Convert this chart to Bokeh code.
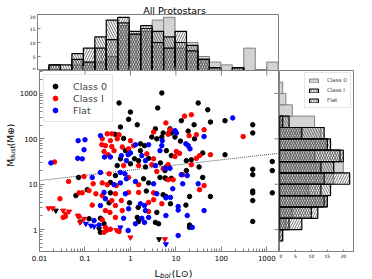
import numpy as np
from bokeh.plotting import figure
from bokeh.layouts import column, row
from bokeh.models import (FixedTicker, Legend, LegendItem, ColumnDataSource, Range1d)
from bokeh.core.properties import value
from bokeh.embed import file_html
from bokeh.resources import INLINE

# ---------------- data ----------------
# scatter points: log10(Lbol / Lsun), log10(Mdust / Mearth)
class0_logL = [-0.25, 0.0, 0.60, -0.04, 0.15, -0.22, 0.55, 0.47, 0.58, -0.34, -0.15, 0.22, 0.31, -0.11, 0.22,
               -0.22, 0.09, 0.18, 0.40, -0.29, 0.0, 0.33, -0.33, -1.14, -0.44, 0.29, 0.40, -0.95, -1.20, -0.44,
               0.35, -0.47, -0.02, 0.17, 0.58, -0.91, -0.66, 0.15, -0.58, 0.18, 0.55, 0.62, -0.66,
               0.69, 1.49, 1.70, 1.12, 1.76, 2.08, 2.69, 2.69, 1.40, 1.27, 0.72, 0.85, 0.90, 0.87, 0.69, 0.98,
               1.10, 1.41, 0.79, 0.90, 1.23, 1.34, 1.59, 2.08, 3.12, 3.12, 2.69, 2.69, 0.66, 0.79, 0.76, 1.23,
               1.51, 1.59, 0.65, 0.76, 0.79, 0.90, 0.72, 0.78, 1.30, 1.76, 2.69, 2.69, 3.12, 2.69, 0.88, 1.22,
               2.69, 1.30, 1.30]
class0_logM = [2.79, 2.59, 2.68, 2.43, 2.31, 2.26, 2.22, 2.04, 2.00, 2.10, 2.01, 1.89, 1.85, 1.74, 1.74,
               1.56, 1.56, 1.52, 1.57, 1.41, 1.45, 1.38, 1.19, 1.15, 1.04, 1.12, 1.03, 0.88, 0.75, 0.81,
               0.85, 0.59, 0.59, 0.49, 0.38, 0.24, 0.25, 0.27, 0.13, 0.18, 0.16, 0.13, -0.06,
               3.01, 2.79, 2.64, 2.40, 2.37, 2.40, 2.31, 2.13, 2.31, 2.17, 2.13, 2.13, 2.13, 2.22, 2.04, 2.04,
               1.95, 2.00, 1.74, 1.63, 1.52, 1.54, 1.69, 1.65, 1.50, 1.30, 1.33, 1.21, 1.47, 1.38, 1.30, 1.30,
               1.38, 1.15, 1.15, 1.14, 1.12, 1.13, 0.77, 0.73, 0.73, 0.73, 0.85, 0.81, 0.81, 0.64, 0.57, 0.54,
               0.18, 0.10, 0.05]
class0_lim_logL = [-1.64, -1.09, -0.69, 0.63]
class0_lim_logM = [0.42, 0.18, 0.01, -0.21]

classI_logL = [0.51, -0.51, -0.41, -0.25, -0.62, -0.29, -0.44, 0.0, 0.07, -0.63, -0.55, -0.41, -0.18, -0.04,
               0.36, -0.58, -0.36, -0.49, 0.51, -1.67, -0.15, 0.18, 0.47, 0.58, -0.47, -0.04, -1.02, -1.36,
               -0.82, -0.62, 0.18, -0.31, -0.51, -0.91, -1.13, -1.06, -0.76, -0.62, -0.33, -0.04, 0.18, 0.51,
               -1.55, -0.41, -0.20, 0.40, 0.51, -0.84, -0.33, -0.55, -0.45, -0.18, 0.40, -1.43, -1.48, -1.13,
               -0.62, -0.33, -0.55, -0.51, -0.44, -0.58, -0.25,
               1.19, 1.34, 0.78, 0.87, 0.83, 1.29, 1.45, 1.62, 2.48, 1.01, 1.08, 0.98, 1.52, 1.76, 1.45, 0.83,
               1.34, 1.15, 0.72, 0.83, 0.94, 1.62, 1.52, 0.69]
classI_logM = [2.15, 2.11, 2.11, 2.09, 2.00, 2.00, 1.96, 1.96, 1.85, 1.87, 1.85, 1.83, 1.82, 1.78,
               1.67, 1.72, 1.74, 1.65, 1.56, 1.49, 1.41, 1.41, 1.43, 1.28, 1.23, 1.15, 1.17, 1.06,
               1.01, 1.03, 0.99, 0.97, 0.99, 0.86, 0.81, 0.81, 0.79, 0.75, 0.79, 0.82, 0.82, 0.81,
               0.68, 0.64, 0.64, 0.60, 0.66, 0.54, 0.53, 0.42, 0.38, 0.42, 0.40, 0.29, 0.27, 0.29,
               0.22, 0.27, 0.05, -0.01, 0.01, -0.06, -0.04,
               2.50, 2.53, 2.35, 2.20, 2.10, 2.07, 2.09, 2.20, 2.05, 1.72, 1.68, 1.61, 1.63, 1.65, 1.57, 1.43,
               1.43, 1.21, 1.34, 1.10, 1.10, 0.97, 0.88, 0.57]
classI_lim_logL = [-1.80, -1.71, -1.48, -1.35, -1.42, -1.16, -1.02, -1.11, -0.31, 0.0, 0.76]
classI_lim_logM = [0.47, 0.47, 0.42, 0.40, 0.35, 0.31, 0.24, 0.16, -0.01, -0.17, -0.21]

flat_logL = [-0.66, -1.00, -1.15, 0.11, 0.40, -0.05, 0.0, 0.25, -1.02, -0.44, -0.57, -0.20, -0.09, 0.33,
             -1.16, -1.06, -1.75, 0.55, -0.66, -0.22, -0.12, -0.09, -0.84, -0.22, 0.11, 0.51, -0.36, -0.58,
             -0.11, 0.58, -0.55, 0.22, 0.31, -0.66, -0.04, 0.33, -0.80, -0.15, 0.25, 0.40, -0.69, -0.05,
             0.11, 0.31,
             2.25, 1.62, 0.98, 1.01, 0.70, 0.69, 0.65, 1.22, 1.27, 1.31, 0.76, 0.87, 1.25, 1.12, 1.15, 1.49,
             0.93, 0.78, 0.88, 1.05, 1.05, 1.62, 1.25, 0.78, 1.36, 1.05]
flat_logM = [2.07, 1.98, 1.96, 1.87, 1.87, 1.65, 1.69, 1.63, 1.76, 1.60, 1.60, 1.63, 1.52, 1.52,
             1.57, 1.56, 1.47, 1.41, 1.26, 1.26, 1.23, 1.12, 1.15, 1.03, 1.06, 1.01, 0.99, 0.82,
             0.79, 0.79, 0.68, 0.57, 0.53, 0.53, 0.46, 0.42, 0.20, 0.25, 0.25, 0.27, 0.10, -0.02,
             0.13, 0.16,
             2.46, 2.05, 2.18, 2.13, 1.96, 1.85, 1.74, 1.89, 1.85, 1.78, 1.35, 1.35, 1.19, 1.21, 1.01, 1.01,
             0.90, 0.70, 0.71, 0.51, 0.43, 0.42, 0.31, 0.31, 0.05, -0.13]
flat_lim_logL = [-0.98, -0.87, -0.80, -0.22, 0.78]
flat_lim_logM = [0.13, 0.09, 0.07, 0.05, -0.32]

# dotted fit line: log Mdust = fit_intercept + fit_slope * log Lbol
fit_slope = 0.114
fit_intercept = 1.31

# top histogram: bins in log Lbol
lbol_edges = [-1.75, -1.5, -1.25, -1.0, -0.75, -0.5, -0.25, 0.0, 0.25, 0.5, 0.75, 1.0, 1.25, 1.5,
              1.75, 2.0, 2.25, 2.5, 2.75, 3.0, 3.25]
lbol_class0 = [0, 0, 2, 3, 3, 5, 16, 13, 14, 18, 19, 8, 10, 5, 3, 2, 1, 8, 0, 3]
lbol_classI = [2, 2, 6, 3, 12, 18, 17, 14, 15, 14, 12, 10, 9, 4, 1, 0, 1, 0, 0, 0]
lbol_flat = [2, 0, 4, 8, 8, 11, 19, 13, 16, 10, 8, 14, 7, 4, 1, 0, 1, 0, 0, 0]

# right histogram: bins in log Mdust
mdust_edges = [-0.25, 0.0, 0.25, 0.5, 0.75, 1.0, 1.25, 1.5, 1.75, 2.0, 2.25, 2.5, 2.75, 3.0, 3.25]
mdust_class0 = [1, 2, 4, 15, 9, 17, 20, 11, 15, 13, 11, 4, 2, 1]
mdust_classI = [0, 3, 10, 14, 16, 14, 17, 19, 16, 14, 3, 0, 0, 0]
mdust_flat = [1, 7, 12, 15, 13, 22, 13, 20, 15, 7, 1, 0, 0, 0]

x_ticks = [0.01, 0.1, 1, 10, 100, 1000]
x_tick_labels = ["0.01", "0.1", "1", "10", "100", "1000"]
y_ticks = [1, 10, 100, 1000]
y_tick_labels = ["1", "10", "100", "1000"]
top_y_ticks = [0, 5, 10, 15, 20]
right_x_ticks = [0, 5, 10, 15, 20]

title_text = "All Protostars"
xlabel_parts = ["L", "bol", "(L\u2299)"]
ylabel_parts = ["M", "dust", "(M\u2295)"]

# ---------------- layout / styling ----------------
FONT = "DejaVu Sans"
GREY = "#808080"
FW, FH_SC, FH_TOP, FW_R = 242, 181, 56, 74
YLAB_W = 16          # strip holding the vertical axis label
SC_LEFT = 21         # scatter border holding y tick labels
TITLE_H = 14
XTICK_H = 12         # scatter border holding x tick labels
XLAB_H = 16          # strip holding the horizontal axis label
RIGHT_B = 19
LEFT = YLAB_W + SC_LEFT

x_range = Range1d(0.01, 1900)
y_range = Range1d(0.33, 3200)


def minor_log(lo, hi):
    return [m * 10.0 ** e for e in range(lo, hi) for m in range(2, 10)]


def style_axis(ax, size="7.3px"):
    ax.axis_line_color = GREY
    ax.major_tick_line_color = GREY
    ax.minor_tick_line_color = GREY
    ax.major_label_text_font = FONT
    ax.major_label_text_font_size = size
    ax.major_label_text_color = "black"


def text_strip(w, h):
    f = figure(width=w, height=h, x_range=Range1d(0, w), y_range=Range1d(0, h), min_border=0,
               min_border_left=0, min_border_right=0, min_border_top=0, min_border_bottom=0,
               output_backend="svg", toolbar_location=None)
    f.axis.visible = False
    f.grid.visible = False
    f.outline_line_color = None
    return f


def lin_hist(edges, counts, vertical=True):
    lo, hi, c = [], [], []
    for i, n in enumerate(counts):
        if n > 0:
            lo.append(10.0 ** edges[i])
            hi.append(10.0 ** edges[i + 1])
            c.append(n)
    if vertical:
        return ColumnDataSource(dict(left=lo, right=hi, bottom=[0] * len(c), top=c))
    return ColumnDataSource(dict(bottom=lo, top=hi, left=[0] * len(c), right=c))


c0_style = dict(fill_color="#d3d3d3", line_color=GREY, line_width=1)
cI_style = dict(fill_color=None, hatch_pattern="\\", hatch_color="#333333", hatch_scale=5,
                hatch_weight=0.7, line_color="black", line_width=1.2)
fl_style = dict(fill_color=None, hatch_pattern="/", hatch_color="#333333", hatch_scale=5,
                hatch_weight=0.7, line_color="black", line_width=1.2)
tick_style = dict(length_units="screen", line_color=GREY, line_width=1)

# ---------------- title strip ----------------
ttl = text_strip(LEFT + FW, TITLE_H)
ttl.text(x=[158], y=[4.5], text=[title_text], text_align="center", text_baseline="alphabetic",
         text_font=value(FONT), text_font_size=value("9.5px"), text_color="black")

# ---------------- top histogram ----------------
top = figure(width=LEFT + FW, height=FH_TOP, x_axis_type="log", x_range=x_range,
             y_range=Range1d(0, 20), min_border_left=LEFT, min_border_right=0, min_border_top=0,
             min_border_bottom=0, output_backend="svg", toolbar_location=None)
top.grid.visible = False
top.outline_line_color = GREY
top.quad(source=lin_hist(lbol_edges, lbol_class0), **c0_style)
top.quad(source=lin_hist(lbol_edges, lbol_classI), **cI_style)
top.quad(source=lin_hist(lbol_edges, lbol_flat), **fl_style)
top.xaxis.visible = False
top.ray(x=x_ticks, y=[0] * len(x_ticks), length=4, angle=np.pi / 2, **tick_style)
top.yaxis.ticker = FixedTicker(ticks=top_y_ticks)
style_axis(top.yaxis[0], "4.5px")
top.yaxis.major_tick_in = 3
top.yaxis.major_tick_out = 0
top.yaxis.minor_tick_in = 0
top.yaxis.minor_tick_out = 0
top.yaxis.major_label_standoff = 2

# ---------------- y label strip ----------------
ylab = text_strip(YLAB_W, FH_SC)
yl_kw = dict(angle=np.pi / 2, text_align="left", text_baseline="alphabetic",
             text_font=value(FONT), text_color="black")
ylab.text(x=[10.5], y=[67], text=[ylabel_parts[0]], text_font_size=value("9px"), **yl_kw)
ylab.text(x=[12.5], y=[75], text=[ylabel_parts[1]], text_font_size=value("6.5px"), **yl_kw)
ylab.text(x=[10.5], y=[91.5], text=[ylabel_parts[2]], text_font_size=value("9px"), **yl_kw)

# ---------------- scatter ----------------
sc = figure(width=SC_LEFT + FW, height=FH_SC + XTICK_H, x_axis_type="log", y_axis_type="log",
            x_range=x_range, y_range=y_range, min_border_left=SC_LEFT, min_border_right=0,
            min_border_top=0, min_border_bottom=XTICK_H, output_backend="svg", toolbar_location=None)
sc.grid.visible = False
sc.outline_line_color = GREY

fx = [x_range.start, x_range.end]
fy = [10 ** (fit_intercept + fit_slope * np.log10(v)) for v in fx]
sc.line(fx, fy, line_dash="1 1", line_color="#555555", line_width=1)


def pts(lx, ly):
    return ColumnDataSource(dict(x=10.0 ** np.array(lx), y=10.0 ** np.array(ly)))


r0 = sc.scatter("x", "y", source=pts(class0_logL, class0_logM), marker="circle", size=4.5, color="black")
r1 = sc.scatter("x", "y", source=pts(classI_logL, classI_logM), marker="circle", size=4.5, color="red")
r2 = sc.scatter("x", "y", source=pts(flat_logL, flat_logM), marker="circle", size=4.5, color="blue")
sc.scatter("x", "y", source=pts(class0_lim_logL, class0_lim_logM), marker="inverted_triangle", size=5, color="black")
sc.scatter("x", "y", source=pts(classI_lim_logL, classI_lim_logM), marker="inverted_triangle", size=5, color="red")
sc.scatter("x", "y", source=pts(flat_lim_logL, flat_lim_logM), marker="inverted_triangle", size=5, color="blue")

sc.ray(x=x_ticks, y=[y_range.end] * len(x_ticks), length=5, angle=-np.pi / 2, **tick_style)
sc.ray(x=[x_range.end] * len(y_ticks), y=y_ticks, length=5, angle=np.pi, **tick_style)

sc.xaxis.ticker = FixedTicker(ticks=x_ticks, minor_ticks=minor_log(-2, 4))
sc.xaxis.major_label_overrides = dict(zip(x_ticks, x_tick_labels))
style_axis(sc.xaxis[0], "7px")
sc.xaxis.major_tick_in = 5
sc.xaxis.major_tick_out = 0
sc.xaxis.minor_tick_in = 3
sc.xaxis.minor_tick_out = 0
sc.xaxis.major_label_standoff = 3

sc.yaxis.ticker = FixedTicker(ticks=y_ticks, minor_ticks=minor_log(-1, 4))
sc.yaxis.major_label_overrides = dict(zip(y_ticks, y_tick_labels))
style_axis(sc.yaxis[0], "7px")
sc.yaxis.major_tick_in = 5
sc.yaxis.major_tick_out = 0
sc.yaxis.minor_tick_in = 3
sc.yaxis.minor_tick_out = 0
sc.yaxis.major_label_standoff = 2

leg = Legend(items=[LegendItem(label="Class 0", renderers=[r0]),
                    LegendItem(label="Class I", renderers=[r1]),
                    LegendItem(label="Flat", renderers=[r2])],
             location="top_left", margin=4, padding=5, spacing=0, glyph_width=12, glyph_height=12,
             label_height=12, label_standoff=12, label_text_font=FONT, label_text_font_size="9.5px",
             border_line_color="#cccccc", background_fill_alpha=0.9)
sc.add_layout(leg)

# ---------------- x label strip ----------------
xlab = text_strip(SC_LEFT + FW, XLAB_H)
xl_kw = dict(text_align="left", text_baseline="alphabetic", text_font=value(FONT), text_color="black")
xlab.text(x=[126], y=[6], text=[xlabel_parts[0]], text_font_size=value("9.5px"), **xl_kw)
xlab.text(x=[132], y=[3.5], text=[xlabel_parts[1]], text_font_size=value("7px"),
          text_font_style="italic", **xl_kw)
xlab.text(x=[145], y=[6], text=[xlabel_parts[2]], text_font_size=value("9.5px"), **xl_kw)

# ---------------- right histogram ----------------
rt = figure(width=FW_R + RIGHT_B, height=FH_SC + XTICK_H + XLAB_H, y_axis_type="log", y_range=y_range,
            x_range=Range1d(0, 23.2), min_border_left=0, min_border_right=RIGHT_B, min_border_top=0,
            min_border_bottom=XTICK_H + XLAB_H, output_backend="svg", toolbar_location=None)
rt.grid.visible = False
rt.outline_line_color = GREY
rq0 = rt.quad(source=lin_hist(mdust_edges, mdust_class0, vertical=False), **c0_style)
rq1 = rt.quad(source=lin_hist(mdust_edges, mdust_classI, vertical=False), **cI_style)
rq2 = rt.quad(source=lin_hist(mdust_edges, mdust_flat, vertical=False), **fl_style)
rt.yaxis.visible = False
rt.xaxis.ticker = FixedTicker(ticks=right_x_ticks)
style_axis(rt.xaxis[0], "4.5px")
rt.xaxis.major_tick_in = 2
rt.xaxis.major_tick_out = 0
rt.xaxis.minor_tick_in = 0
rt.xaxis.minor_tick_out = 0
rt.xaxis.major_label_standoff = 2
rleg = Legend(items=[LegendItem(label="Class 0", renderers=[rq0]),
                     LegendItem(label="Class I", renderers=[rq1]),
                     LegendItem(label="Flat", renderers=[rq2])],
              location="top_right", margin=2, padding=3, spacing=2, glyph_width=11, glyph_height=5,
              label_height=8, label_standoff=8, label_text_font=FONT, label_text_font_size="5.5px",
              border_line_color="#cccccc", background_fill_alpha=0.9)
rt.add_layout(rleg)

layout = column(ttl, top, row(ylab, column(sc, xlab), rt))
open("out.html", "w").write(file_html(layout, INLINE))
